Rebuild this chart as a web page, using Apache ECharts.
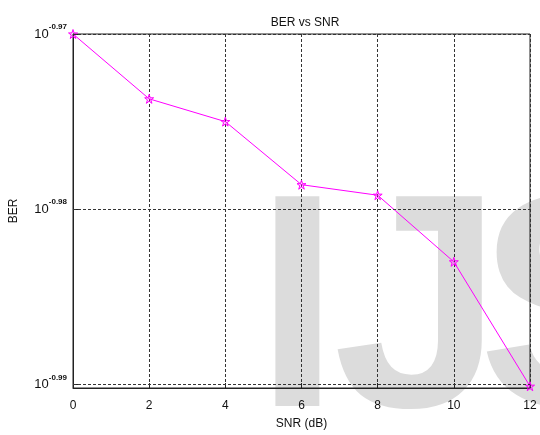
<!DOCTYPE html>
<html>
<head>
<meta charset="utf-8">
<script src="https://cdn.jsdelivr.net/npm/echarts@6/dist/echarts.min.js"></script>
<style>
  html, body { margin: 0; padding: 0; background: #fff; }
  #chart { width: 540px; height: 435px; }
</style>
</head>
<body>
<div id="chart"></div>
<script>
// SNR sweep (dB) and the measured bit error rate, stored as log10(BER)
const snrDb = [0, 2, 4, 6, 8, 10, 12];
const berLog10 = [-0.97, -0.9737, -0.9750, -0.9786, -0.9792, -0.9830, -0.9901];
// decade-exponent ticks shown on the logarithmic BER axis
const berTickExponents = [-0.99, -0.98, -0.97];
const snrTicks = [0, 2, 4, 6, 8, 10, 12];

const FONT = 'Liberation Sans, Arial, sans-serif';
const gridDash = { color: '#333', width: 1, type: [3, 2] };

// five-point star marker
const star = 'path://M50,0L61.2,34.6L97.6,34.5L68.1,55.9L79.4,90.5L50,69L20.6,90.5L31.9,55.9L2.4,34.5L38.8,34.6Z';

const chart = echarts.init(document.getElementById('chart'), null, { renderer: 'canvas' });

chart.setOption({
  animation: false,
  backgroundColor: '#fff',
  textStyle: { fontFamily: FONT },
  title: {
    text: 'BER vs SNR',
    left: 300, top: 12, textAlign: 'center',
    textStyle: { fontFamily: FONT, fontSize: 12, fontWeight: 'normal', color: '#111' }
  },
  grid: {
    left: 71, right: 10, top: 34, bottom: 40,
    show: true, borderColor: '#222', borderWidth: 1, backgroundColor: 'transparent'
  },
  graphic: {
    elements: [
      { type: 'text', z: -100, style: { text: 'I', x: 255, y: 322, font: 'bold 305px Liberation Sans', fill: '#dcdcdc', verticalAlign: 'middle' } },
      { type: 'text', z: -100, style: { text: 'J', x: 333, y: 322, font: 'bold 305px Liberation Sans', fill: '#dcdcdc', verticalAlign: 'middle' } },
      { type: 'text', z: -100, style: { text: 'S', x: 478, y: 322, font: 'bold 305px Liberation Sans', fill: '#dcdcdc', verticalAlign: 'middle' } }
    ]
  },
  xAxis: {
    type: 'value', min: 0, max: 12, interval: 2,
    name: 'SNR (dB)', nameLocation: 'middle', nameGap: 30,
    nameTextStyle: { fontFamily: FONT, fontSize: 12, color: '#111' },
    axisLine: { lineStyle: { color: '#222', width: 1 } },
    axisTick: { inside: true, length: 5, lineStyle: { color: '#222' } },
    axisLabel: { fontFamily: FONT, fontSize: 12, color: '#111', margin: 12,
      formatter: v => snrTicks.includes(v) ? String(v) : '' },
    splitLine: { show: true, lineStyle: gridDash }
  },
  yAxis: {
    type: 'value', min: -0.9902, max: -0.97,
    name: 'BER', nameLocation: 'middle', nameGap: 53,
    nameTextStyle: { fontFamily: FONT, fontSize: 12, color: '#111' },
    axisLine: { show: true, lineStyle: { color: '#222', width: 1 } },
    axisTick: { show: true, inside: true, length: 5, customValues: berTickExponents, lineStyle: { color: '#222' } },
    axisLabel: {
      show: true, margin: 6, customValues: berTickExponents,
      formatter: v => '{b|10}{s|' + v.toFixed(2) + '}',
      rich: {
        b: { fontFamily: FONT, fontSize: 13, color: '#111' },
        s: { fontFamily: FONT, fontSize: 8, fontWeight: 'bold', color: '#111', padding: [0, 0, 14, 0] }
      }
    },
    splitLine: { show: false }
  },
  series: [{
    type: 'line',
    data: snrDb.map((x, i) => [x, berLog10[i]]),
    clip: false,
    symbol: star, symbolSize: 9,
    itemStyle: { color: 'rgba(255,0,255,0.15)', borderColor: '#ff00ff', borderWidth: 1 },
    lineStyle: { color: '#ff00ff', width: 1 },
    markLine: {
      silent: true, symbol: 'none', label: { show: false },
      lineStyle: gridDash,
      data: berTickExponents.map(v => ({ yAxis: v }))
    }
  }]
});
</script>
</body>
</html>
